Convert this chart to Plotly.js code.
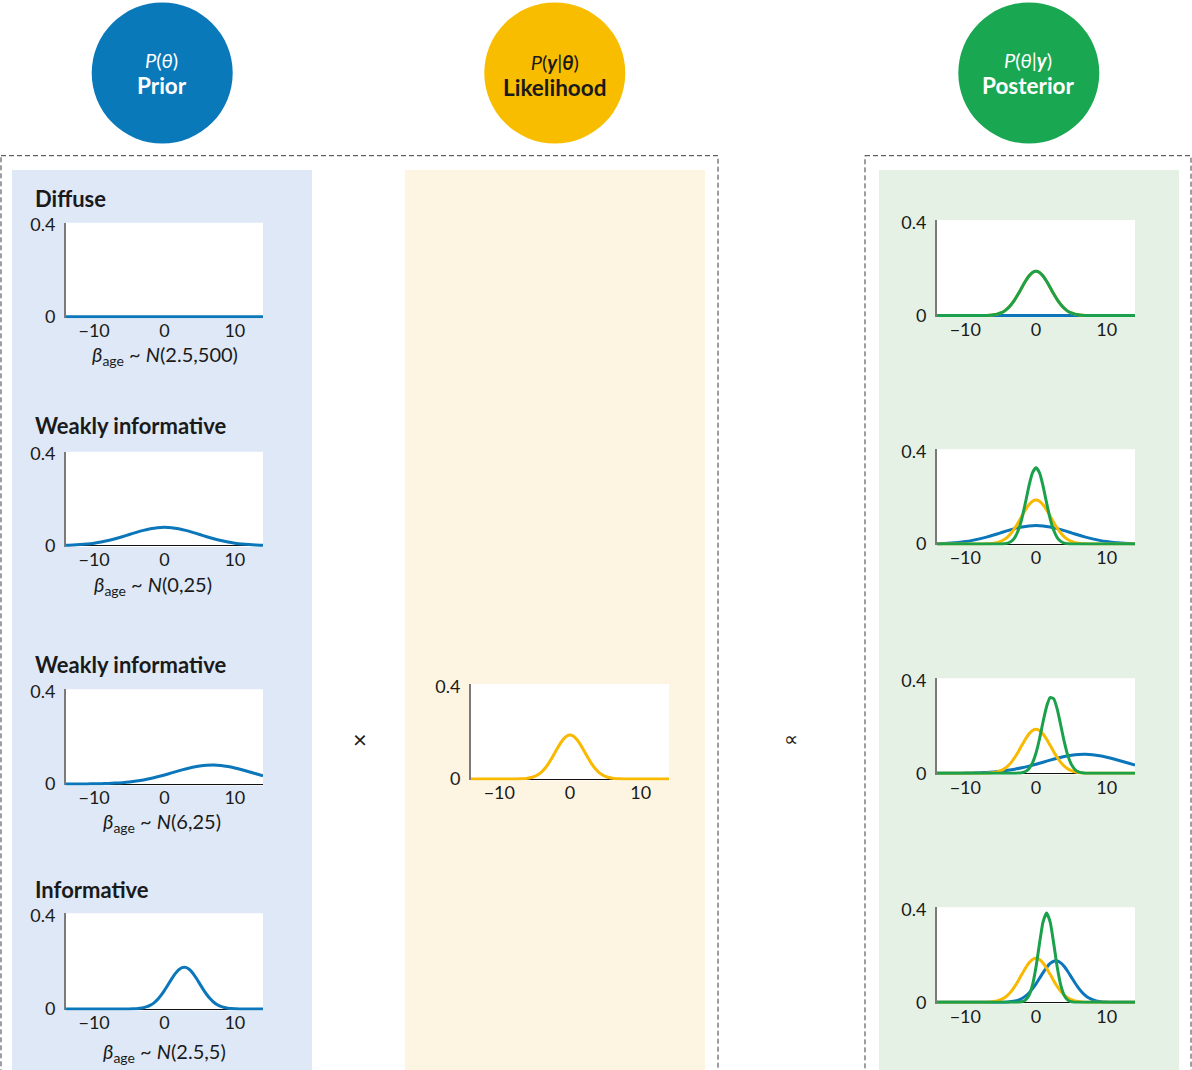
<!DOCTYPE html>
<html><head><meta charset="utf-8">
<script src="https://cdn.plot.ly/plotly-3.0.1.min.js"></script>
<style>html,body{margin:0;padding:0;background:#fff}#chart{width:1192px;height:1070px}</style>
</head><body><div id="chart"></div>
<script>
// ---------------- DATA ----------------
const xCoarse = [-14,-13,-12,-11,-10,-9,-8,-7,-6,-5,-4,-3,-2,-1,0,1,2,3,4,5,6,7,8,9,10,11,12,13,14];
const xFine = [-14,-13.5,-13,-12.5,-12,-11.5,-11,-10.5,-10,-9.5,-9,-8.5,-8,-7.5,-7,-6.5,-6,-5.5,-5,-4.5,-4,-3.5,-3,-2.5,-2,-1.5,-1,-0.5,0,0.5,1,1.5,2,2.5,3,3.5,4,4.5,5,5.5,6,6.5,7,7.5,8,8.5,9,9.5,10,10.5,11,11.5,12,12.5,13,13.5,14];

// prior densities on the coarse grid
const priorDiffuse = [0.0008,0.0008,0.0008,0.0008,0.0008,0.0008,0.0008,0.0008,0.0008,0.0008,0.0008,0.0008,0.0008,0.0008,0.0008,0.0008,0.0008,0.0008,0.0008,0.0008,0.0008,0.0008,0.0008,0.0008,0.0008,0.0008,0.0008,0.0008,0.0008];
const priorWeakCentred = [0.0016,0.0027,0.0045,0.0071,0.0108,0.0158,0.0222,0.0300,0.0388,0.0484,0.0580,0.0667,0.0737,0.0782,0.0798,0.0782,0.0737,0.0667,0.0580,0.0484,0.0388,0.0300,0.0222,0.0158,0.0108,0.0071,0.0045,0.0027,0.0016];
const priorWeakShifted = [0.0001,0.0002,0.0003,0.0005,0.0009,0.0015,0.0025,0.0039,0.0060,0.0089,0.0128,0.0177,0.0239,0.0311,0.0392,0.0480,0.0568,0.0651,0.0724,0.0779,0.0812,0.0820,0.0801,0.0759,0.0696,0.0619,0.0533,0.0444,0.0359];
// densities on the fine grid
const priorInformative = [0,0,0,0,0,0,0,0,0,0,0,0,0,0,0,0,0.0001,0.0001,0.0003,0.0007,0.0015,0.0030,0.0055,0.0098,0.0166,0.0265,0.0403,0.0581,0.0796,0.1036,0.1281,0.1503,0.1676,0.1773,0.1783,0.1702,0.1543,0.1328,0.1086,0.0843,0.0621,0.0435,0.0289,0.0183,0.0110,0.0062,0.0034,0.0017,0.0008,0.0004,0.0002,0.0001,0,0,0,0,0];
const likelihood = [0,0,0,0,0,0,0,0,0,0,0,0,0.0001,0.0003,0.0007,0.0016,0.0032,0.0062,0.0112,0.0191,0.0310,0.0474,0.0685,0.0935,0.1207,0.1472,0.1696,0.1847,0.1900,0.1847,0.1696,0.1472,0.1207,0.0935,0.0685,0.0474,0.0310,0.0191,0.0112,0.0062,0.0032,0.0016,0.0007,0.0003,0.0001,0,0,0,0,0,0,0,0,0,0,0,0];
const posteriorDiffuse = [0,0,0,0,0,0,0,0,0,0,0,0,0.0001,0.0003,0.0007,0.0016,0.0032,0.0062,0.0112,0.0191,0.0310,0.0474,0.0685,0.0935,0.1207,0.1472,0.1696,0.1847,0.1900,0.1847,0.1696,0.1472,0.1207,0.0935,0.0685,0.0474,0.0310,0.0191,0.0112,0.0062,0.0032,0.0016,0.0007,0.0003,0.0001,0,0,0,0,0,0,0,0,0,0,0,0];
const posteriorWeakCentred = [0,0,0,0,0,0,0,0,0,0,0,0,0,0,0,0,0,0.0001,0.0003,0.0013,0.0041,0.0115,0.0280,0.0594,0.1101,0.1780,0.2508,0.3081,0.3300,0.3081,0.2508,0.1780,0.1101,0.0594,0.0280,0.0115,0.0041,0.0013,0.0003,0.0001,0,0,0,0,0,0,0,0,0,0,0,0,0,0,0,0,0];
const posteriorWeakShifted = [0,0,0,0,0,0,0,0,0,0,0,0,0,0,0,0,0,0,0,0,0,0,0.0002,0.0008,0.0026,0.0077,0.0199,0.0447,0.0875,0.1493,0.2223,0.2885,0.3264,0.3219,0.2769,0.2076,0.1357,0.0773,0.0384,0.0166,0.0063,0.0021,0.0006,0.0001,0,0,0,0,0,0,0,0,0,0,0,0,0];
const posteriorInformative = [0,0,0,0,0,0,0,0,0,0,0,0,0,0,0,0,0,0,0,0,0,0,0.0001,0.0005,0.0024,0.0093,0.0291,0.0737,0.1519,0.2547,0.3472,0.3850,0.3472,0.2547,0.1519,0.0737,0.0291,0.0093,0.0024,0.0005,0.0001,0,0,0,0,0,0,0,0,0,0,0,0,0,0,0,0];

const xTickVals = [-10, 0, 10];
const xTickText = ['\u221210', '0', '10'];
const yTickVals = [0, 0.4];
const yTickText = ['0', '0.4'];
const priorTitles = ['Diffuse', 'Weakly informative', 'Weakly informative', 'Informative'];
const priorDists = ['(2.5,500)', '(0,25)', '(6,25)', '(2.5,5)'];

// ---------------- STYLE / LAYOUT ----------------
const W = 1192, H = 1070;
const px = v => v / W;
const py = v => 1 - v / H;
const FONT = 'Lato, "Open Sans", sans-serif';
const INK = '#1a1a1a';
const BLUE = '#0b76b9', YELLOW = '#f8b900', GREEN = '#1ba14b';

// subplot boxes in pixels: [left, right, top, bottom]
const boxes = [
  [66, 263, 222.7, 318.4],
  [66, 263, 451.7, 547],
  [66, 263, 689.3, 785.4],
  [66, 263, 913.3, 1010.4],
  [471, 669, 684, 780.4],
  [937, 1135, 220, 317],
  [937, 1135, 449.3, 545.4],
  [937, 1135, 678.3, 774.7],
  [937, 1135, 907.3, 1003.7]
];

const layout = {
  width: W, height: H,
  margin: {l: 0, r: 0, t: 0, b: 0},
  paper_bgcolor: '#ffffff',
  plot_bgcolor: 'rgba(0,0,0,0)',
  showlegend: false,
  font: {family: FONT, color: INK},
  shapes: [], annotations: []
};

// panels
const panels = [
  [12, 312, '#dee8f6'],
  [405, 705, '#fdf5e2'],
  [879, 1179, '#e6f1e6']
];
panels.forEach(p => layout.shapes.push({type: 'rect', xref: 'paper', yref: 'paper', layer: 'below',
  x0: px(p[0]), x1: px(p[1]), y0: py(170), y1: py(1090), fillcolor: p[2], line: {width: 0}}));

// dashed frames
[[1, 718], [865, 1191]].forEach(f => layout.shapes.push({type: 'rect', xref: 'paper', yref: 'paper', layer: 'below',
  x0: px(f[0]), x1: px(f[1]), y0: py(155.7), y1: py(1090), fillcolor: 'rgba(0,0,0,0)',
  line: {color: '#3c3c3c', width: 1, dash: '5px,3px'}}));

// circles
const circles = [[162.2, '#0a79ba'], [554.8, '#f9bd00'], [1028.8, '#19a752']];
circles.forEach(c => layout.shapes.push({type: 'circle', xref: 'paper', yref: 'paper', layer: 'below',
  x0: px(c[0] - 70.5), x1: px(c[0] + 70.5), y0: py(143.5), y1: py(2.5), fillcolor: c[1], line: {width: 0}}));

// white plot areas + axes
boxes.forEach((b, i) => {
  const k = i === 0 ? '' : String(i + 1);
  layout.shapes.push({type: 'rect', xref: 'paper', yref: 'paper', layer: 'below',
    x0: px(b[0]), x1: px(b[1]), y0: py(b[3]), y1: py(b[2]), fillcolor: '#ffffff', line: {width: 0}});
  layout['xaxis' + k] = {
    domain: [px(b[0]), px(b[1])], anchor: 'y' + k, range: [-14, 14], fixedrange: true,
    tickmode: 'array', tickvals: xTickVals, ticktext: xTickText, ticks: '',
    showgrid: false, zeroline: false, showline: false, ticklabelstandoff: 0,
    tickfont: {family: FONT, size: 18, color: INK}
  };
  layout['yaxis' + k] = {
    domain: [py(b[3]), py(b[2])], anchor: 'x' + k, range: [-0.006, 0.41], fixedrange: true,
    tickmode: 'array', tickvals: yTickVals, ticktext: yTickText, ticks: '',
    showgrid: false, zeroline: true, zerolinecolor: '#111111', zerolinewidth: 1,
    showline: true, linecolor: '#7a7a7a', linewidth: 2, ticklabelstandoff: 5,
    tickfont: {family: FONT, size: 18, color: INK}
  };
});

// text
function ann(x, y, text, size, color, extra) {
  layout.annotations.push(Object.assign({xref: 'paper', yref: 'paper', x: px(x), y: py(y), text: text,
    showarrow: false, xanchor: 'center', yanchor: 'middle',
    font: {family: FONT, size: size, color: color}}, extra || {}));
}
const big = s => '<span style="font-size:22.5px"><b>' + s + '</b></span>';
ann(162.2, 74, '<i>P</i>(<i>θ</i>)<br>' + big('Prior'), 20, '#ffffff');
ann(554.8, 76, '<i>P</i>(<b><i>y</i></b>|<b><i>θ</i></b>)<br>' + big('Likelihood'), 20, INK);
ann(1028.8, 74, '<i>P</i>(<i>θ</i>|<b><i>y</i></b>)<br>' + big('Posterior'), 20, '#ffffff');

const titleY = [198, 425, 664, 889];
priorTitles.forEach((t, i) => ann(33, titleY[i], '<b>' + t + '</b>', 22, INK, {xanchor: 'left'}));
const labelPos = [[165, 355], [153, 585], [162, 822], [164, 1052]];
priorDists.forEach((d, i) => ann(labelPos[i][0], labelPos[i][1],
  '<i>β</i><sub>age</sub> ~ <i>N</i>' + d, 20, INK));
ann(360, 738, '×', 24, INK);
ann(791, 738, '∝', 20, INK);

// ---------------- TRACES ----------------
function line(x, y, color, k) {
  return {type: 'scatter', mode: 'lines', x: x, y: y, xaxis: 'x' + k, yaxis: 'y' + k,
    line: {color: color, width: 3, shape: 'spline', smoothing: 0.6}, hoverinfo: 'skip'};
}
const traces = [
  line(xCoarse, priorDiffuse, BLUE, ''),
  line(xCoarse, priorWeakCentred, BLUE, '2'),
  line(xCoarse, priorWeakShifted, BLUE, '3'),
  line(xFine, priorInformative, BLUE, '4'),
  line(xFine, likelihood, YELLOW, '5'),
  line(xCoarse, priorDiffuse, BLUE, '6'),
  line(xFine, likelihood, YELLOW, '6'),
  line(xFine, posteriorDiffuse, GREEN, '6'),
  line(xCoarse, priorWeakCentred, BLUE, '7'),
  line(xFine, likelihood, YELLOW, '7'),
  line(xFine, posteriorWeakCentred, GREEN, '7'),
  line(xCoarse, priorWeakShifted, BLUE, '8'),
  line(xFine, likelihood, YELLOW, '8'),
  line(xFine, posteriorWeakShifted, GREEN, '8'),
  line(xFine, priorInformative, BLUE, '9'),
  line(xFine, likelihood, YELLOW, '9'),
  line(xFine, posteriorInformative, GREEN, '9')
];

Plotly.newPlot('chart', traces, layout, {staticPlot: true, displayModeBar: false});
</script>
</body></html>
